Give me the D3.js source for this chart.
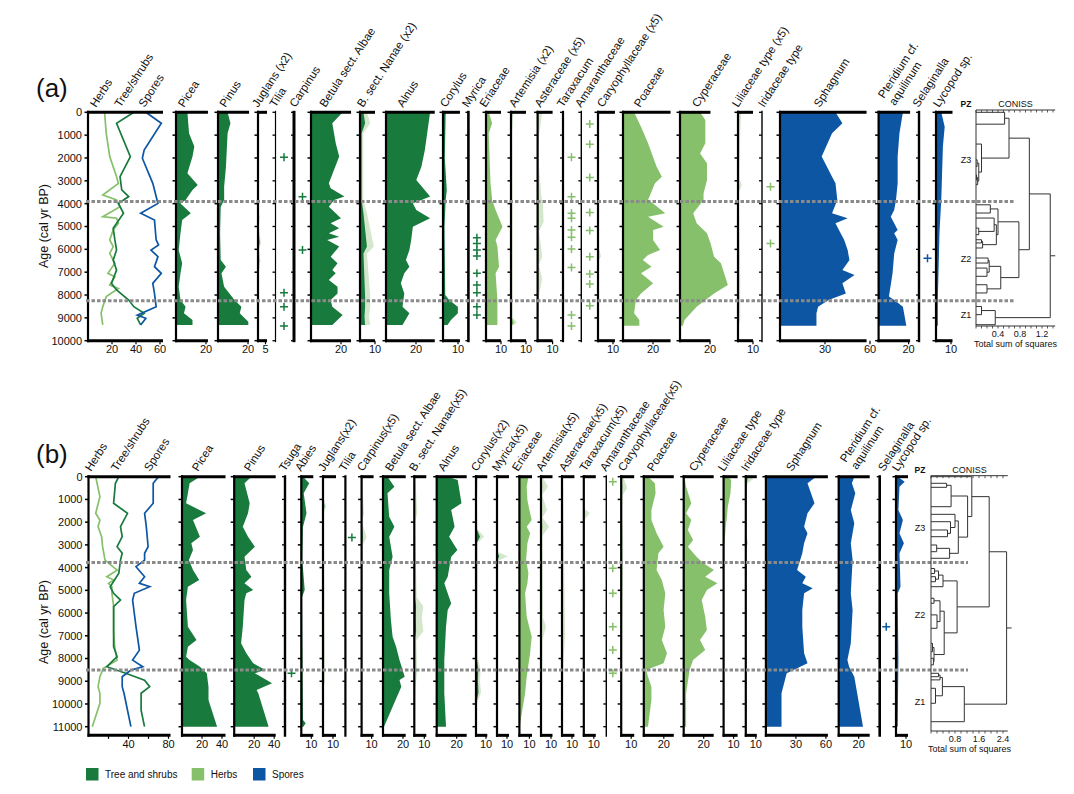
<!DOCTYPE html>
<html><head><meta charset="utf-8">
<script src="https://cdn.jsdelivr.net/npm/d3@7"></script>
<style>body{margin:0;background:#fff}svg{display:block}text{font-family:"Liberation Sans",Arial,sans-serif;fill:#111}</style>
</head><body>
<svg id="chart" width="1074" height="794"></svg>
<script>
// ================= DATA : panel (a) =================
const ageTicksA = d3.range(0, 10001, 1000);
const zonesA = [3910, 8250];
const herbsA = [[0,13.8],[920,15.2],[1940,18.1],[2820,23.8],[3110,25.3],[3620,12.3],[3840,23.8],[4130,26.7],[4570,12.3],[4640,23.8],[4860,25.3],[5150,21],[5590,18.1],[5880,21],[6180,18.1],[6610,22.4],[7050,16.6],[7200,22.4],[7560,18.1],[7710,25.3],[8070,15.2],[8510,12.3],[8800,10.9],[9310,12.3]];
const treesA = [[0,38.2],[480,23.8],[1940,35.3],[2820,26.7],[3400,28.1],[3690,33.9],[3990,25.3],[4420,29.6],[5080,21],[5590,22.4],[6030,23.8],[6470,21],[6910,23.8],[7490,19.5],[7780,23.8],[8220,33.9],[8510,38.2],[8800,46.8],[9020,41],[9310,43.9]];
const sporesA = [[0,48.2],[480,61.1],[1650,46.8],[2010,45.3],[3110,54],[3690,56.8],[3990,58.3],[4420,43.9],[4720,55.4],[5590,56.8],[5810,58.8],[6030,52.5],[6320,58.3],[6760,55.4],[7050,61.1],[7490,54],[7930,55.4],[8510,56.8],[8880,41],[9020,48.2],[9310,43.9]];
const piceaA = [[0,7.6],[920,8.7],[1500,12.2],[1940,11],[2670,7.6],[3180,14.5],[3400,11],[3840,6.4],[3990,3],[4420,9.9],[4720,4.1],[5300,3],[6030,1.8],[6610,4.1],[7050,3],[7640,1.8],[8220,3],[8510,6.4],[8800,5.3],[9090,11],[9310,11]];
const pinusA = [[0,6.4],[480,8.3],[920,6.4],[2380,5.3],[3260,4.1],[3840,4.1],[4130,1.8],[5300,1.4],[6470,1.8],[6760,5.3],[7050,2.3],[7640,4.1],[8220,11],[8510,15.6],[8800,14.5],[9170,20.2],[9310,20.2]];
const juglansA = [[0,0],[4300,0.2],[4600,0.6],[5000,0.2],[5700,1],[6000,0.4],[6500,0.8],[7000,0.3],[8000,0.2],[9310,0]];
const tiliaA = [1970,7900,8510,9360];
const carpinusA = [3700,6030];
const betulaA = [[0,21.1],[480,14.2],[1360,16.5],[1940,18.8],[3110,11.9],[3330,13.1],[3690,22.3],[3840,15.4],[4130,11.9],[4640,20],[4860,13.1],[5080,18.8],[5300,11.9],[5450,18.8],[5590,10.8],[5880,18.8],[6320,13.1],[6610,17.7],[6910,14.2],[7050,16.5],[7340,11.9],[7640,17.7],[7930,17.7],[8220,13.1],[8510,14.2],[8880,21.1],[9310,14.2]];
const nanaeA = [[0,2.3],[480,3.4],[920,1.1],[3840,1.1],[4420,2.3],[5880,4.6],[6180,2.3],[8070,3.4],[8510,3.4],[8950,3],[9310,3.4]];
const alnusA = [[0,29.4],[1650,25.9],[2380,23.6],[2960,20.2],[3690,29.4],[3990,17.9],[4280,20.2],[4640,29.4],[5010,17.9],[5590,16.8],[6030,15.6],[6470,13.3],[6760,15.6],[7050,12.2],[7490,9.9],[7930,12.2],[8510,11],[8800,15.6],[9310,11]];
const corylusA = [[0,1.8],[2000,1.2],[3400,2.5],[3840,1.8],[5000,1],[8000,1.5],[8220,4.1],[8510,9.9],[8800,9.9],[9090,5.3],[9310,3]];
const myricaA = [5490,5740,6030,6290,7050,7560,7900,8510,8880];
const ericaceaeA = [[0,1.8],[480,4.1],[920,1.8],[3110,3],[3840,4.1],[4280,6.4],[5010,11],[5590,6.4],[5880,7.6],[6760,8.7],[7050,6.4],[8220,7.6],[9310,7.6]];
const artemisiaA = [[0,0.8],[900,0.4],[3900,0.5],[9000,0.5],[9200,2],[9310,1]];
const asteraceaeA = [[0,0.6],[1000,0.2],[2000,0.1],[3700,0.5],[4000,0.7],[4800,0.8],[5200,0.2],[6300,0.6],[6700,0.2],[7300,0.6],[8000,0.2],[9310,0.1]];
const taraxacumA = [1970,3700,4420,4640,5150,5470,5990,6790,8880,9360];
const amaranthA = [510,1400,2850,4390,5180,6320,7080,7520,8470];
const caryoA = [[0,0],[5800,0],[6300,0.4],[6500,0.1],[9310,0]];
const poaceaeA = [[0,7.4],[630,12],[1360,16.7],[2380,22.4],[2820,25.9],[3110,21.3],[3840,16.7],[3990,20.1],[4420,28.2],[4570,16.7],[5010,27.1],[5150,20.1],[5590,20.1],[6030,24.7],[6250,16.7],[6470,13.2],[6760,19],[7050,12],[7490,20.1],[7930,12],[8220,8.6],[8800,7.4],[9090,10.9],[9340,10.9]];
const cyperA = [[0,13.4],[340,16.9],[1360,16.9],[1800,13.4],[2230,18],[2960,18],[3550,15.7],[3840,15.7],[4420,8.8],[4860,11.1],[5300,18],[5740,20.4],[6320,22.7],[6610,27.3],[7560,31.9],[7930,22.7],[8510,11.1],[9090,3],[9340,1.9]];
const liliaA = [[0,0.4],[900,0.3],[2900,0.2],[3200,0.5],[3500,0.1],[7000,0.3],[9100,0.3],[9340,0]];
const iridA = [3260,5740];
const sphagnumA = [[0,37],[480,41.6],[920,34.7],[1940,27.8],[2820,34.7],[3110,37],[3840,38.2],[4420,34.7],[4640,45.1],[4860,37],[5150,39.3],[5590,42.8],[6030,45.1],[6470,46.3],[6910,41.6],[7120,49.7],[7490,41.6],[7930,43.9],[8220,32.4],[8510,25.4],[8800,24.3],[9340,24.3]];
const pteridA = [[0,16.2],[920,13.9],[1940,12.7],[3110,12.7],[3840,11.6],[4280,10.4],[4570,8.1],[4860,10.4],[5150,12.7],[5300,10.4],[5590,12.7],[6180,10.4],[7050,9.3],[8070,6.9],[8220,10.4],[8510,16.2],[9340,18.5]];
const selagA = [6390];
const lycopodA = [[0,3.5],[630,5.8],[1500,4.6],[3840,3.5],[5300,2.3],[8220,1.2],[9340,1.2]];

const namesA = ["Picea","Pinus","Juglans (x2)","Tilia","Carpinus","Betula sect. Albae","B. sect. Nanae (x2)","Alnus","Corylus","Myrica","Eriaceae","Artemisia (x2)","Asteraceae (x5)","Taraxacum","Amaranthaceae","Caryophyllaceae (x5)","Poaceae","Cyperaceae","Liliaceae type (x5)","Iridaceae type","Sphagnum","Pteridium cf.|aquilinum","Selaginalla","Lycopod sp."];
const seriesA = [piceaA,pinusA,juglansA,tiliaA,carpinusA,betulaA,nanaeA,alnusA,corylusA,myricaA,ericaceaeA,artemisiaA,asteraceaeA,taraxacumA,amaranthA,caryoA,poaceaeA,cyperA,liliaA,iridA,sphagnumA,pteridA,selagA,lycopodA];
const groupsA = ["T","T","T","T","T","T","T","T","T","T","H","H","H","H","H","H","H","H","H","H","S","S","S","S"];
const exagA = [0,0,2,0,0,0,2,0,0,0,0,2,5,0,0,5,0,0,5,0,0,0,0,0];
const axisMaxA = [21.3,20.7,6,0,0,26.7,10,32.5,11.3,0,10,10,10,0,0,11.3,31.7,20.3,10,0,57.7,21,0,11];
const ticksA = [[20],[20],[5],[],[],[20],[10],[20],[10],[],[10],[10],[10],[],[],[10],[20],[20],[10],[],[30,60],[20],[],[10]];
const sumTicksA = [20,40,60];
const sumLabelsA = [20,40,60];

// dendrogram (a): [height, child, child]; leaves are ages
const z3A = [0.6,[0.52,0,520],[0.1,1390,[0.05,[0.02,2080,2370],[0.03,[0.01,2740,2960],3170]]]];
const z2A = [0.78,[0.4,[0.26,4050,4410],[0.37,[0.33,4630,[0.05,5070,5360]],[0.12,[0.1,5580,5720],5940]]],[0.45,[0.24,[0.22,6380,6600],[0.2,6820,7180]],[0.2,7550,7910]]];
const z1A = [0.35,[0.1,8500,8860],9300];
const dendroA = [1.35,[0.97,z3A,z2A],z1A];
const zoneLabelsA = [["Z3",2070],["Z2",6420],["Z1",8870]];

// ================= DATA : panel (b) =================
const ageTicksB = d3.range(0, 11001, 1000);
const zonesB = [3780, 8500];
const herbsB = [[0,7.2],[880,11.4],[1610,7.2],[1910,11.4],[2200,9.6],[2640,13.1],[3080,14.1],[3670,16.5],[4110,28.6],[4400,18.3],[4550,25.2],[4690,20],[4840,23.4],[5130,23.4],[5720,25.2],[6310,25.2],[6890,25.2],[7480,26.2],[8070,28.6],[8430,14.8],[8800,11.4],[9240,9.6],[9530,11.4],[9970,11.4],[11000,3.8]];
const treesB = [[0,30.3],[290,26.9],[1170,25.1],[1610,39],[2200,32],[2640,33.7],[3080,28.6],[3370,33.7],[3670,32],[4250,30.3],[4840,21.7],[5130,25.1],[5430,32],[5720,25.1],[6600,25.1],[7480,25.1],[7920,28.6],[8360,18.3],[8650,37.2],[8950,56],[9240,61.2],[9530,52.6],[10270,52.6],[11000,56]];
const sporesB = [[0,70],[290,64.7],[1170,64.7],[1610,56.1],[2200,57.8],[3080,59.6],[3370,56.1],[3670,56.1],[3960,47.5],[4400,56.1],[4690,50.9],[4840,61.2],[5130,45.8],[5430,44.1],[6600,47.5],[7630,50.9],[8070,44.1],[8360,54.3],[8510,42.4],[8800,33.7],[9240,33.7],[9530,35.5],[11000,42.4]];
const piceaB = [[0,17.9],[290,7.6],[730,5.9],[1170,4.1],[1610,24.1],[1910,11],[2640,17.9],[2930,9.3],[3230,11],[3670,6.9],[4110,11],[4550,17.2],[4840,5.9],[5430,4.1],[6600,5.9],[7190,14.5],[7480,5.9],[7920,4.1],[8070,7.6],[8360,17.9],[8650,24.8],[9240,26.5],[9820,26.5],[11000,35.1]];
const pinusB = [[0,17.2],[290,10.3],[1170,15.5],[1610,13.8],[2200,8.6],[2640,13.8],[3080,20.7],[3520,10.3],[4110,12.1],[4400,17.2],[4690,10.3],[4990,19],[5130,12.1],[5430,10.3],[6600,8.6],[7330,6.9],[7770,12.1],[8210,19],[8500,31],[8650,20.7],[9090,37.9],[9390,22.4],[9530,24.1],[11000,34.4]];
const tsugaB = [8650];
const abiesB = [[0,1.7],[290,7.9],[730,2.4],[1610,5.2],[2200,1.7],[3670,1],[4990,3.4],[5300,0.7],[10700,1.7],[10850,4.4],[11000,2]];
const juglansB = [[0,0],[1000,0.5],[1300,1.5],[1600,0.3],[3800,0.5],[9000,1],[9300,0.2],[11000,0]];
const tiliaB = [2670];
const carpinusB = [[0,0],[1600,0.5],[2000,0.1],[2670,1],[3000,0.2],[11000,0]];
const betulaB = [[0,4.5],[440,11.4],[730,4.5],[1760,6.2],[2200,11.4],[2640,6.2],[3520,9.6],[4110,6.2],[5130,6.2],[6310,7.9],[7040,9.6],[7480,13.1],[8070,16.5],[8800,21.7],[8950,16.5],[9240,18.3],[11000,1]];
const nanaeB = [[0,0.2],[1600,0.6],[2000,0.1],[5300,0.5],[5700,1.8],[6200,1.5],[6800,1.8],[7200,0.4],[8600,0.6],[9300,0.2],[11000,0]];
const alnusB = [[0,11],[150,21],[1170,24.8],[1460,14.5],[2200,17.9],[2640,12.4],[3230,20.7],[3520,14.5],[4400,11],[4690,7.6],[5130,11],[5580,14.5],[5870,11],[6600,9.3],[8070,7.6],[9530,7.6],[11000,9.3]];
const corylusB = [[0,1],[1000,0.5],[2300,0.7],[2640,4],[2900,1],[8000,1],[8500,2.3],[9000,2],[9500,2.5],[10000,0.3],[11000,0]];
const myricaB = [[0,0],[3300,0],[3500,2.2],[3700,0.2],[11000,0]];
const ericaceaeB = [[0,9],[440,7.3],[1030,8],[1470,10],[1910,12.3],[2200,7.3],[2490,10.7],[2930,8],[3670,6.7],[4250,9],[4690,8],[5130,5.7],[6160,7.3],[7040,12.3],[7770,10.7],[8800,7.3],[9530,5.7],[10700,1.3],[11000,0.5]];
const artemisiaB = [[0,0.3],[440,1.4],[800,0.2],[1470,1.2],[1800,0.3],[2200,1.6],[2600,0.3],[6200,0.4],[6600,1],[7200,0.3],[11000,0.1]];
const asteraceaeB = [[0,0.2],[5000,0.5],[7000,0.6],[8200,0.3],[11000,0]];
const taraxacumB = [[0,0],[1400,0],[1600,1.2],[1900,0.1],[4800,0.3],[11000,0]];
const amaranthB = [220,4030,5130,6600,7630,8650];
const caryoB = [[0,0.4],[500,1.2],[800,0.3],[1600,0.2],[3000,0.4],[11000,0]];
const poaceaeB = [[0,4.2],[290,11.1],[730,11.8],[1470,7.6],[1910,7.6],[2490,12.8],[3080,19.8],[3370,14.6],[4110,12.8],[4550,18],[5130,21.5],[5870,19.8],[6600,21.5],[7190,18],[7770,23.2],[8210,19.8],[8500,2.4],[8800,4.2],[9240,7.6],[9820,7.6],[11000,4.2]];
const cyperB = [[0,0.7],[440,2.4],[1170,7.6],[1610,2.4],[1910,7.6],[2350,4.2],[2790,9.4],[3080,4.2],[3520,12.8],[3810,19.8],[4110,30.2],[4400,21.5],[4690,33.7],[4990,23.2],[5430,18],[6160,21.5],[6750,23.2],[7190,16.3],[7630,21.5],[8070,9.4],[8500,5.9],[9530,2.4],[11000,2.4]];
const liliaB = [[0,4.2],[150,7.6],[730,6.9],[1320,4.2],[1910,3],[2050,2.4],[2640,1.4],[3000,0.5],[11000,0.3]];
const iridB = [[0,1.2],[100,2.5],[300,0.6],[600,0.2],[2600,0.1],[2900,0.8],[3200,0.1],[11000,0]];
const sphagnumB = [[0,50.3],[290,41.6],[730,45.1],[1170,48.6],[1610,41.6],[2200,38.2],[2490,41.6],[2930,38.2],[3370,36.4],[4110,31.2],[4400,39.9],[4690,36.4],[4910,46.8],[5130,38.2],[5870,36.4],[6600,36.4],[7770,38.2],[8210,41.6],[8650,20.8],[9240,17.3],[9530,15.6],[11000,15.6]];
const pteridB = [[0,15.6],[290,13.2],[730,16.6],[1470,12.1],[2050,15.6],[2930,12.1],[3670,13.9],[5130,12.1],[5870,13.9],[7330,12.1],[8070,8.7],[8360,10.4],[8800,15.6],[11000,24.3]];
const selagB = [6600];
const lycopodB = [[0,1.7],[220,8.7],[440,3.5],[1470,2.4],[1910,6.9],[2490,3.5],[2930,7.9],[3370,3.5],[4840,4.5],[5130,1.7],[8070,2.4],[11000,1.7]];

const namesB = ["Picea","Pinus","Tsuga","Abies","Juglans(x2)","Tilia","Carpinus(x5)","Betula sect. Albae","B. sect. Nanae(x5)","Alnus","Corylus(x2)","Myrica(x5)","Eriaceae","Artemisia(x5)","Asteraceae(x5)","Taraxacum(x5)","Amaranthaceae","Caryophyllaceae(x5)","Poaceae","Cyperaceae","Liliaceae type","Iridaceae type","Sphagnum","Pteridium cf.|aquilinum","Selaginalla","Lycopod sp."];
const seriesB = [piceaB,pinusB,tsugaB,abiesB,juglansB,tiliaB,carpinusB,betulaB,nanaeB,alnusB,corylusB,myricaB,ericaceaeB,artemisiaB,asteraceaeB,taraxacumB,amaranthB,caryoB,poaceaeB,cyperB,liliaB,iridB,sphagnumB,pteridB,selagB,lycopodB];
const groupsB = ["T","T","T","T","T","T","T","T","T","T","T","T","H","H","H","H","H","H","H","H","H","H","S","S","S","S"];
const exagB = [0,0,0,0,2,0,5,0,5,0,2,5,0,5,5,5,0,5,0,0,0,3,0,0,0,0];
const axisMaxB = [43.5,41.5,0,12,13,0,12,22.7,12,30,11.3,12,12.6,11.5,12.4,12,0,13,30,30,14,11,62,31,0,12];
const ticksB = [[20,40],[20,40],[],[10],[10],[],[10],[20],[10],[20],[10],[10],[10],[10],[10],[10],[],[10],[20],[20],[10],[10],[30,60],[20],[],[10]];
const sumTicksB = [20,40,60,80];
const sumLabelsB = [40,80];

const z3B = [1.36,0,[1.22,[0.67,[0.52,290,467],1320],[0.91,[0.8,1655,[0.65,1980,[0.55,2345,2640]]],[0.62,[0.19,3005,3300],3590]]]];
const z2B = [0.87,[0.4,[0.25,[0.12,4040,4260],[0.15,4400,4620]],4840],[0.44,[0.3,[0.1,5350,5570],[0.2,6080,6670]],[0.1,[0.05,7330,7700],[0.08,7990,8280]]]];
const z1B = [1.11,[0.38,[0.3,[0.25,8650,8800],8940],[0.15,9310,9970]],10780];
const dendroB = [2.52,[1.94,z3B,z2B],z1B];
const zoneLabelsB = [["Z3",2270],["Z2",6090],["Z1",9900]];

const legendItems = [["Tree and shrubs","T"],["Herbs","H"],["Spores","S"]];

// ================= LAYOUT (pixel positions) =================
const layoutA = {
  letter:"(a)", letterY:97, yTop:112.3, yRef:340.7, ageRef:10000, axisAge:10000, k:1.5,
  sumLeft:88, sumK:1.2, sumMax:62.5, sumLabelX:[96,120.5,144.6], headY:108, titleY:226,
  left:[176,218,258,275.5,294,311,360,386,443,468.4,486,511,537.6,563,581.3,598,623,680,738,762,780,878.6,919,936],
  labelX:[184,225.6,258,275.5,295.5,325.5,363,403,446,468,485.6,515,540.4,563,581,603,640,698,738,764,819.7,884,918.5,939],
  lineW:[0,0,0,1.2,3,0,0,0,0,2.6,0,0,0,2.2,1.4,0,0,0,0,1.4,0,0,2.4,0],
  plusOff:8.5, zoneRight:1015,
  dLeft:976, dPx:55, dMax:1.44, dTop:110, dBot:326, dTickLab:[0.4,0.8,1.2], dMinor:0.1, pzX:966, zoneLabX:966
};
const layoutB = {
  letter:"(b)", letterY:463, yTop:476.7, yRef:726.7, ageRef:11000, axisAge:11380, k:1.0,
  sumLeft:88.5, sumK:1.0, sumMax:82, sumLabelX:[91,117,150], headY:472, titleY:622,
  left:[182,234.2,285,301.3,323,345.4,361.6,383,414.3,436.7,476,497,519.4,541,562,583.8,606.3,621.2,643.8,683.7,723.6,745.8,765.9,838.7,879.7,896],
  labelX:[198,250,285,301,324,345,363,391,415,444,477,498,518,542,565,585.5,606,624,653,695,724,747,792,846,884,898],
  lineW:[0,0,2.4,0,0,2.2,0,0,0,0,0,0,0,0,0,0,1.4,0,0,0,0,0,0,0,2.6,0],
  plusOff:6.5, zoneRight:968,
  dLeft:931, dPx:30, dMax:2.56, dTop:475.7, dBot:731, dTickLab:[0.8,1.6,2.4], dMinor:0.2, pzX:920, zoneLabX:920
};

// ================= DRAWING =================
const svg = d3.select("#chart");
const COLORS = {T:"#187a3d", H:"#86c06b", S:"#0c56a4"};
const PALE = "#d4e6cc";

function plusPath(cx, cy, s){ return `M${cx-s},${cy}H${cx+s}M${cx},${cy-s}V${cy+s}`; }

function colFrame(g, left, right, y, yTop, yBot, ageTicks, ticks, xs, labelTicks){
  g.append("line").attr("x1",left).attr("x2",left).attr("y1",yTop-1.5).attr("y2",yBot+1.5)
    .attr("stroke","#000").attr("stroke-width",2.2);
  g.selectAll(null).data(ageTicks).join("line")
    .attr("x1",left-3.5).attr("x2",left).attr("y1",d=>y(d)).attr("y2",d=>y(d))
    .attr("stroke","#000").attr("stroke-width",1.5);
  [yTop,yBot].forEach(yy=>g.append("line").attr("x1",left-1).attr("x2",right).attr("y1",yy).attr("y2",yy)
    .attr("stroke","#000").attr("stroke-width",3));
  g.selectAll(null).data(ticks).join("line")
    .attr("x1",d=>xs(d)).attr("x2",d=>xs(d)).attr("y1",yBot).attr("y2",yBot+3.5)
    .attr("stroke","#000").attr("stroke-width",1.2);
  g.selectAll(null).data(labelTicks||ticks).join("text")
    .attr("x",d=>xs(d)).attr("y",yBot+12.5).attr("text-anchor","middle").attr("font-size",11).text(d=>d);
}

function headLabel(g, x, y, txt){
  const parts = txt.split("|");
  const t = g.append("text").attr("transform",`translate(${x},${y - (parts.length>1?9:0)}) rotate(-57)`)
    .attr("font-size",11.5);
  parts.forEach((p,i)=>t.append("tspan").attr("x",0).attr("dy",i?"1.15em":0).text(p));
}

function layoutTree(node, y){
  if (typeof node === "number") return {h:0, y:y(node)};
  const kids = node.slice(1).map(c=>layoutTree(c,y));
  return {h:node[0], y:(kids[0].y + kids[kids.length-1].y)/2, kids};
}
function drawTree(g, n, xs){
  if (!n.kids) return;
  n.kids.forEach(c=>{
    g.append("line").attr("x1",xs(c.h)).attr("x2",xs(n.h)).attr("y1",c.y).attr("y2",c.y);
    drawTree(g,c,xs);
  });
  g.append("line").attr("x1",xs(n.h)).attr("x2",xs(n.h))
    .attr("y1",n.kids[0].y).attr("y2",n.kids[n.kids.length-1].y);
}

function drawPanel(L, D){
  const g = svg.append("g");
  const y = d3.scaleLinear().domain([0, L.ageRef]).range([L.yTop, L.yRef]);
  const yBot = y(L.axisAge);

  g.append("text").attr("x",36).attr("y",L.letterY).attr("font-size",26).text(L.letter);
  g.append("text").attr("transform",`translate(48,${L.titleY}) rotate(-90)`)
    .attr("text-anchor","middle").attr("font-size",12.5).text("Age (cal yr BP)");
  g.selectAll(null).data(D.ageTicks).join("text")
    .attr("x",L.sumLeft-6).attr("y",d=>y(d)).attr("dy","0.36em")
    .attr("text-anchor","end").attr("font-size",11).text(d=>d);

  // summary curves
  const sx = d3.scaleLinear().domain([0,1]).range([L.sumLeft, L.sumLeft + L.sumK]);
  const lg = d3.line().x(d=>sx(d[1])).y(d=>y(d[0]));
  [["H",D.sum[0]],["T",D.sum[1]],["S",D.sum[2]]].forEach(([grp,data])=>{
    g.append("path").attr("d",lg(data)).attr("fill","none")
      .attr("stroke",COLORS[grp]).attr("stroke-width",1.7).attr("stroke-linejoin","miter");
  });
  colFrame(g, L.sumLeft, sx(L.sumMax), y, L.yTop, yBot, D.ageTicks, D.sumTicks, sx, D.sumLabels);
  ["Herbs","Tree/shrubs","Spores"].forEach((t,i)=>headLabel(g, L.sumLabelX[i], L.headY, t));

  // taxa columns
  D.names.forEach((name,i)=>{
    const left = L.left[i], s = D.series[i], grp = D.groups[i];
    if (typeof s[0] === "number"){
      g.append("line").attr("x1",left).attr("x2",left).attr("y1",L.yTop-1.5).attr("y2",yBot+1.5)
        .attr("stroke","#000").attr("stroke-width",L.lineW[i] || 2);
      g.selectAll(null).data(D.ageTicks).join("line")
        .attr("x1",left-3).attr("x2",left).attr("y1",d=>y(d)).attr("y2",d=>y(d))
        .attr("stroke","#000").attr("stroke-width",1.3);
      g.selectAll(null).data(s).join("path")
        .attr("d",d=>plusPath(left+L.plusOff, y(d), 4))
        .attr("stroke",COLORS[grp]).attr("stroke-width",1.5).attr("fill","none");
    } else {
      const xs = d3.scaleLinear().domain([0,1]).range([left, left+L.k]);
      const ex = D.exag[i];
      if (ex){
        g.append("path").attr("d", d3.area().y(d=>y(d[0])).x0(left).x1(d=>xs(d[1]*ex))(s))
          .attr("fill",PALE);
      }
      g.append("path").attr("d", d3.area().y(d=>y(d[0])).x0(left).x1(d=>xs(d[1]))(s))
        .attr("fill",COLORS[grp]);
      colFrame(g, left, xs(D.axisMax[i]), y, L.yTop, yBot, D.ageTicks, D.ticks[i], xs);
    }
    headLabel(g, L.labelX[i], L.headY, name);
  });

  // zone boundaries
  g.selectAll(null).data(D.zones).join("line")
    .attr("x1",86).attr("x2",L.zoneRight).attr("y1",d=>y(d)).attr("y2",d=>y(d))
    .attr("stroke","#8a8a8a").attr("stroke-width",3).attr("stroke-dasharray","3.5,2");

  // CONISS dendrogram
  const dx = d3.scaleLinear().domain([0,1]).range([L.dLeft, L.dLeft + L.dPx]);
  const dg = g.append("g").attr("stroke","#333").attr("stroke-width",1).attr("fill","none");
  const root = layoutTree(D.dendro, y);
  drawTree(dg, root, dx);
  dg.append("line").attr("x1",dx(root.h)).attr("x2",dx(root.h)+5).attr("y1",root.y).attr("y2",root.y);
  const ax = g.append("g").attr("stroke","#333").attr("fill","none");
  ax.append("line").attr("x1",dx(0)).attr("x2",dx(0)).attr("y1",L.dTop).attr("y2",L.dBot).attr("stroke-width",1);
  [L.dTop, L.dBot].forEach(yy=>ax.append("line").attr("x1",dx(0)).attr("x2",dx(L.dMax)).attr("y1",yy).attr("y2",yy).attr("stroke-width",1));
  const minors = d3.range(0, L.dMax+1e-9, L.dMinor);
  ax.selectAll(null).data(minors).join("line")
    .attr("x1",d=>dx(d)).attr("x2",d=>dx(d)).attr("y1",L.dTop).attr("y2",L.dTop+2.5).attr("stroke-width",0.8);
  ax.selectAll(null).data(minors).join("line")
    .attr("x1",d=>dx(d)).attr("x2",d=>dx(d)).attr("y1",L.dBot).attr("y2",L.dBot+2.5).attr("stroke-width",0.8);
  g.selectAll(null).data(L.dTickLab).join("text")
    .attr("x",d=>dx(d)).attr("y",L.dBot+11).attr("text-anchor","middle").attr("font-size",9).text(d=>d.toFixed(1));
  g.append("text").attr("x",(dx(0)+dx(L.dMax))/2).attr("y",L.dBot+21).attr("text-anchor","middle")
    .attr("font-size",9).text("Total sum of squares");
  g.append("text").attr("x",(dx(0)+dx(L.dMax))/2).attr("y",L.dTop-3).attr("text-anchor","middle")
    .attr("font-size",9).text("CONISS");
  g.append("text").attr("x",L.pzX).attr("y",L.dTop-3).attr("text-anchor","middle")
    .attr("font-size",8.5).attr("font-weight","bold").text("PZ");
  g.selectAll(null).data(D.zoneLabels).join("text")
    .attr("x",L.zoneLabX).attr("y",d=>y(d[1])).attr("dy","0.35em").attr("text-anchor","middle")
    .attr("font-size",9).text(d=>d[0]);
}

drawPanel(layoutA, {ageTicks:ageTicksA, zones:zonesA, sum:[herbsA,treesA,sporesA], sumTicks:sumTicksA, sumLabels:sumLabelsA,
  names:namesA, series:seriesA, groups:groupsA, exag:exagA, axisMax:axisMaxA, ticks:ticksA, dendro:dendroA, zoneLabels:zoneLabelsA});
drawPanel(layoutB, {ageTicks:ageTicksB, zones:zonesB, sum:[herbsB,treesB,sporesB], sumTicks:sumTicksB, sumLabels:sumLabelsB,
  names:namesB, series:seriesB, groups:groupsB, exag:exagB, axisMax:axisMaxB, ticks:ticksB, dendro:dendroB, zoneLabels:zoneLabelsB});

// legend
const lx = [86, 191.7, 253];
const lgd = svg.append("g");
legendItems.forEach(([t,grp],i)=>{
  lgd.append("rect").attr("x",lx[i]).attr("y",768).attr("width",12.5).attr("height",12.5).attr("fill",COLORS[grp]);
  lgd.append("text").attr("x",lx[i]+19).attr("y",778).attr("font-size",10).text(t);
});
</script>
</body></html>
